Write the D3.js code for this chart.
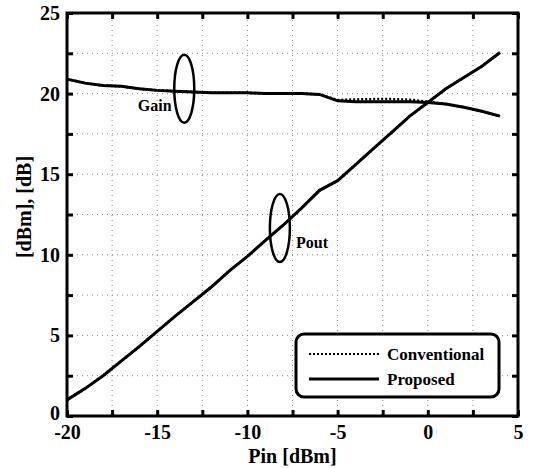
<!DOCTYPE html>
<html>
<head>
<meta charset="utf-8">
<script src="https://cdn.jsdelivr.net/npm/d3@7"></script>
<style>
  body { margin: 0; background: #fff; }
  svg { display: block; }
</style>
</head>
<body>
<svg width="534" height="468"></svg>
<script>
// Data
var pin = [-20, -19, -18, -17, -16, -15, -14, -13, -12, -11, -10, -9, -8, -7, -6, -5, -4, -3, -2, -1, 0, 1, 2, 3, 4];
var poutProposed = [1.0, 1.7, 2.5, 3.4, 4.3, 5.25, 6.2, 7.1, 8.0, 9.0, 9.9, 10.9, 11.85, 12.9, 14.0, 14.6, 15.6, 16.6, 17.6, 18.6, 19.45, 20.3, 21.0, 21.7, 22.55];
var poutConventional = [1.0, 1.7, 2.5, 3.4, 4.3, 5.25, 6.2, 7.1, 8.0, 9.0, 9.9, 10.9, 11.85, 12.9, 14.0, 14.6, 15.6, 16.6, 17.6, 18.6, 19.45, 20.3, 21.0, 21.7, 22.55];
var gainProposed = [20.9, 20.65, 20.5, 20.45, 20.3, 20.2, 20.15, 20.1, 20.05, 20.05, 20.05, 20.0, 20.0, 20.0, 19.95, 19.55, 19.5, 19.5, 19.5, 19.5, 19.45, 19.35, 19.15, 18.9, 18.6];
var gainConventional = [20.9, 20.65, 20.5, 20.45, 20.3, 20.2, 20.15, 20.1, 20.05, 20.05, 20.05, 20.0, 20.0, 20.0, 19.95, 19.6, 19.64, 19.66, 19.66, 19.62, 19.5, 19.35, 19.15, 18.9, 18.6];

var xTicks = d3.range(-20, 5.01, 2.5);
var yTicks = d3.range(0, 25.01, 2.5);
var legendNames = ["Conventional", "Proposed"];

var FONT = "'Liberation Serif'";

var svg = d3.select("svg");

var x = d3.scaleLinear().domain([-20, 5]).range([67, 518]);
var y = d3.scaleLinear().domain([0, 25]).range([416, 13]);

var lbl = function(d) { return d % 5 === 0 ? d : ""; };

// grid
var grid = svg.append("g").attr("stroke", "#8a8a8a").attr("stroke-width", 1).attr("stroke-dasharray", "1,4");
grid.selectAll(".gx").data(xTicks.slice(1, -1)).enter().append("line")
  .attr("x1", d => x(d)).attr("x2", d => x(d)).attr("y1", y(0)).attr("y2", y(25));
grid.selectAll(".gy").data(yTicks.slice(1, -1)).enter().append("line")
  .attr("y1", d => y(d)).attr("y2", d => y(d)).attr("x1", x(-20)).attr("x2", x(5));

// axes (ticks inward)
function styleAxis(g) {
  g.select(".domain").remove();
  g.selectAll(".tick line").attr("stroke", "#000").attr("stroke-width", 3);
  g.selectAll(".tick text").attr("fill", "#000")
    .style("font-family", FONT).style("font-size", "20px").style("font-weight", "bold");
}
svg.append("g").attr("transform", "translate(0," + y(0) + ")")
  .call(d3.axisBottom(x).tickValues(xTicks).tickSize(-6).tickPadding(9).tickFormat(lbl))
  .call(styleAxis);
svg.append("g").attr("transform", "translate(0," + y(25) + ")")
  .call(d3.axisTop(x).tickValues(xTicks).tickSize(-6).tickFormat(""))
  .call(styleAxis);
svg.append("g").attr("transform", "translate(" + x(-20) + ",0)")
  .call(d3.axisLeft(y).tickValues(yTicks).tickSize(-6).tickPadding(7).tickFormat(lbl))
  .call(styleAxis)
  .call(g => g.selectAll(".tick text").filter(d => d === 0).attr("y", -3));
svg.append("g").attr("transform", "translate(" + x(5) + ",0)")
  .call(d3.axisRight(y).tickValues(yTicks).tickSize(-6).tickFormat(""))
  .call(styleAxis);

// frame
svg.append("rect")
  .attr("x", x(-20)).attr("y", y(25))
  .attr("width", x(5) - x(-20)).attr("height", y(0) - y(25))
  .attr("fill", "none").attr("stroke", "#000").attr("stroke-width", 3);

// curves
var line = d3.line().x(d => x(d[0])).y(d => y(d[1]));
function series(vals) { return pin.map((p, i) => [p, vals[i]]); }

[poutProposed, gainProposed].forEach(function(v) {
  svg.append("path").datum(series(v)).attr("d", line)
    .attr("fill", "none").attr("stroke", "#000").attr("stroke-width", 3);
});
[poutConventional, gainConventional].forEach(function(v) {
  svg.append("path").datum(series(v)).attr("d", line)
    .attr("fill", "none").attr("stroke", "#000").attr("stroke-width", 2.5)
    .attr("stroke-dasharray", "2,2");
});

function label(xp, yp, txt, size, anchor) {
  return svg.append("text").attr("x", xp).attr("y", yp)
    .attr("text-anchor", anchor || "start").attr("fill", "#000")
    .style("font-family", FONT).style("font-weight", "bold").style("font-size", size + "px")
    .text(txt);
}

// annotations
svg.append("ellipse").attr("cx", x(-13.5)).attr("cy", y(20.3))
  .attr("rx", 10).attr("ry", 34).attr("fill", "none").attr("stroke", "#000").attr("stroke-width", 2.5);
label(x(-14.2), y(18.9), "Gain", 16, "end");
svg.append("ellipse").attr("cx", x(-8.2)).attr("cy", y(11.66))
  .attr("rx", 10).attr("ry", 34).attr("fill", "none").attr("stroke", "#000").attr("stroke-width", 2.5);
label(x(-7.3), y(10.4), "Pout", 16);

// axis titles
label((x(-20) + x(5)) / 2, 463, "Pin [dBm]", 20, "middle");
label(0, 0, "[dBm], [dB]", 20, "middle").attr("transform", "translate(31,207) rotate(-90)");

// legend
var lg = svg.append("g");
lg.append("rect").attr("x", 296).attr("y", 334).attr("width", 203).attr("height", 63)
  .attr("rx", 8).attr("fill", "#fff").attr("stroke", "#000").attr("stroke-width", 3);
legendNames.forEach(function(name, i) {
  var ly = 354 + i * 25;
  lg.append("line").attr("x1", 309).attr("x2", 379).attr("y1", ly).attr("y2", ly)
    .attr("stroke", "#000").attr("stroke-width", i === 0 ? 2 : 3)
    .attr("stroke-dasharray", i === 0 ? "2,2" : null);
  label(387, ly + 6, name, 17);
});
</script>
</body>
</html>
